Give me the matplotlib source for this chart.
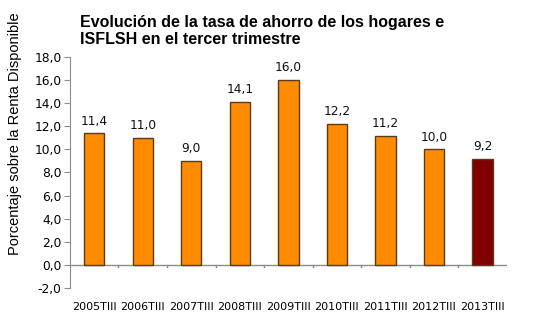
import matplotlib
matplotlib.use("Agg")
import matplotlib.pyplot as plt
import numpy as np

# Datos
periodos = ["2005TIII", "2006TIII", "2007TIII", "2008TIII", "2009TIII",
            "2010TIII", "2011TIII", "2012TIII", "2013TIII"]
tasa = [11.4, 11.0, 9.0, 14.1, 16.0, 12.2, 11.2, 10.0, 9.2]
yticks = [-2, 0, 2, 4, 6, 8, 10, 12, 14, 16, 18]

naranja = "#FF8C00"
granate = "#800000"
borde = "#5A3A1A"
gris = "#8C8C8C"

fig = plt.figure(figsize=(5.34, 3.27), dpi=100)
ax = fig.add_axes([0.131, 0.119, 0.818, 0.707])

x = np.arange(len(periodos))
colores = [naranja] * (len(periodos) - 1) + [granate]
ax.bar(x, tasa, width=0.42, color=colores, edgecolor=borde, linewidth=1.0, zorder=3)

for xi, v in zip(x, tasa):
    ax.annotate(f"{v:.1f}".replace(".", ","), (xi, v), xytext=(0, 4),
                textcoords="offset points", ha="center", va="bottom",
                fontsize=8.8, family="DejaVu Sans", color="#111111")

# linea del cero con marcas entre categorias
ax.axhline(0, color=gris, linewidth=1.0, zorder=2)
for b in np.arange(-0.5, len(periodos) - 0.5, 1.0)[1:]:
    ax.plot([b, b], [0, -0.2], color=gris, linewidth=1.0, zorder=2, clip_on=False)

ax.set_xlim(-0.5, len(periodos) - 0.5)
ax.set_ylim(-2, 18)
ax.set_yticks(yticks)
ax.set_yticklabels([f"{t:.1f}".replace(".", ",") for t in yticks],
                   fontsize=8.8, family="DejaVu Sans")
ax.set_xticks(x)
ax.set_xticklabels(periodos, fontsize=8, family="DejaVu Sans")
ax.tick_params(axis="x", length=0, pad=10)
ax.tick_params(axis="y", length=4, color=gris, pad=2)

for s in ["top", "right", "bottom"]:
    ax.spines[s].set_visible(False)
ax.spines["left"].set_color(gris)

ax.set_ylabel("Porcentaje sobre la Renta Disponible", fontsize=10.5,
              family="Liberation Sans")
ax.yaxis.set_label_coords(-0.11, 0.67)

fig.text(0.15, 0.955, "Evolución de la tasa de ahorro de los hogares e\nISFLSH en el tercer trimestre",
         fontsize=11.5, fontweight="bold", family="Liberation Sans",
         ha="left", va="top", linespacing=1.2)

fig.savefig("out.png", dpi=100)
